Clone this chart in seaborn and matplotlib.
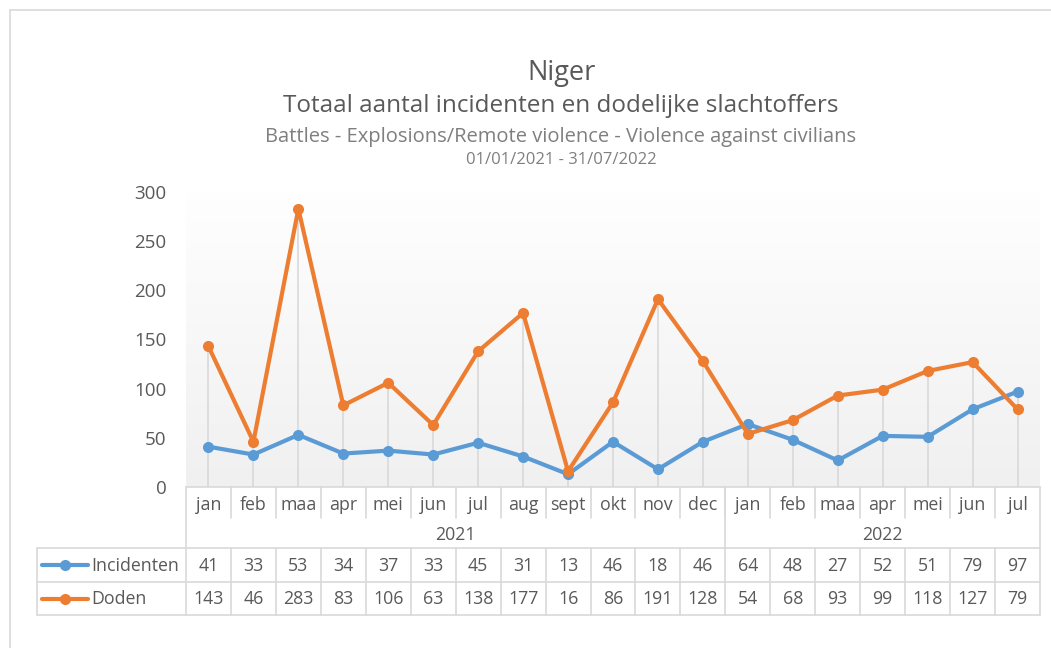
import numpy as np
import pandas as pd
import matplotlib
matplotlib.use("Agg")
import matplotlib.pyplot as plt
import seaborn as sns
from matplotlib.lines import Line2D

# ── data ──────────────────────────────────────────────────────────────────────
months = ["jan", "feb", "maa", "apr", "mei", "jun", "jul", "aug", "sept", "okt", "nov", "dec",
          "jan", "feb", "maa", "apr", "mei", "jun", "jul"]
years = ["2021", "2022"]
year_counts = [12, 7]
incidenten = [41, 33, 53, 34, 37, 33, 45, 31, 13, 46, 18, 46, 64, 48, 27, 52, 51, 79, 97]
doden = [143, 46, 283, 83, 106, 63, 138, 177, 16, 86, 191, 128, 54, 68, 93, 99, 118, 127, 79]

BLUE = "#5b9bd5"
ORANGE = "#ed7d31"
GRID = "#d9d9d9"
TXT = "#595959"

sns.set_theme(style="white")
plt.rcParams["font.family"] = ["Open Sans", "DejaVu Sans"]

W, H = 1051, 648
fig = plt.figure(figsize=(W / 100, H / 100), dpi=100)


def fx(px):
    return px / W


def fy(py):
    return 1 - py / H


# ── plot area (pixel layout) ──────────────────────────────────────────────────
L, R, TOP, BOT = 186, 1040, 192, 487
ax = fig.add_axes([fx(L), fy(BOT), fx(R - L), (BOT - TOP) / H])
n = len(months)
x = np.arange(n)

# gradient background
grad = np.linspace(0, 1, 256).reshape(-1, 1)
cmap = matplotlib.colors.LinearSegmentedColormap.from_list("g", ["#f0f0f0", "#ffffff"])
ax.imshow(grad, aspect="auto", cmap=cmap, origin="lower",
          extent=(-0.5, n - 0.5, 0, 312), zorder=0)

# drop lines
ax.vlines(x, 0, np.maximum(incidenten, doden), color=GRID, lw=1.2, zorder=1)

df = pd.DataFrame({"x": np.concatenate([x, x]),
                   "waarde": incidenten + doden,
                   "reeks": ["Incidenten"] * n + ["Doden"] * n})
sns.lineplot(data=df, x="x", y="waarde", hue="reeks",
             palette={"Incidenten": BLUE, "Doden": ORANGE},
             marker="o", markersize=8, markeredgewidth=0, lw=3,
             legend=False, ax=ax, zorder=3)

ax.set_xlim(-0.5, n - 0.5)
ax.set_ylim(0, 300)
ax.set_yticks(np.arange(0, 301, 50))
ax.tick_params(axis="y", labelsize=13.5, labelcolor=TXT, length=0, pad=14)
ax.set_xticks([])
ax.set_xlabel("")
ax.set_ylabel("")
for s in ax.spines.values():
    s.set_visible(False)

# ── titles ────────────────────────────────────────────────────────────────────
fig.text(fx(562), fy(73), "Niger", ha="center", va="center", fontsize=19.5, color=TXT)
fig.text(fx(561), fy(106), "Totaal aantal incidenten en dodelijke slachtoffers",
         ha="center", va="center", fontsize=17.5, color=TXT)
fig.text(fx(561), fy(137), "Battles - Explosions/Remote violence - Violence against civilians",
         ha="center", va="center", fontsize=14.5, color="#7f7f7f")
fig.text(fx(561), fy(160), "01/01/2021 - 31/07/2022",
         ha="center", va="center", fontsize=12, color="#7f7f7f")

# ── data table ────────────────────────────────────────────────────────────────
cw = (R - L) / n
LEG = 37
FS = 12.8
r_month, r_year, r_inc, r_dod, r_end = 487, 520, 548, 582, 615


def hline(y, x0, x1):
    fig.add_artist(Line2D([fx(x0), fx(x1)], [fy(y), fy(y)], color=GRID, lw=1.2))


def vline(xp, y0, y1):
    fig.add_artist(Line2D([fx(xp), fx(xp)], [fy(y0), fy(y1)], color=GRID, lw=1.2))


hline(r_month, L, R)
hline(r_inc, LEG, R)
hline(r_dod, LEG, R)
hline(r_end, LEG, R)
vline(L, r_month, r_end)
vline(R, r_month, r_end)
vline(LEG, r_inc, r_end)
for i in range(1, n):
    vline(L + i * cw, r_month, r_month + 31)
    vline(L + i * cw, r_inc, r_end)

start = 0
for yr, cnt in zip(years, year_counts):
    xb = L + (start + cnt) * cw
    if start + cnt < n:
        vline(xb, r_month, r_inc)
    fig.text(fx(L + (start + cnt / 2) * cw), fy((r_year + r_inc) / 2 + 1), yr,
             ha="center", va="center", fontsize=FS, color=TXT)
    start += cnt

for i, m in enumerate(months):
    cx = fx(L + (i + 0.5) * cw)
    fig.text(cx, fy((r_month + r_year) / 2 + 1), m, ha="center", va="center", fontsize=FS, color=TXT)
    fig.text(cx, fy((r_inc + r_dod) / 2 + 1), str(incidenten[i]),
             ha="center", va="center", fontsize=FS, color=TXT)
    fig.text(cx, fy((r_dod + r_end) / 2 + 1), str(doden[i]),
             ha="center", va="center", fontsize=FS, color=TXT)

for (name, col, r0, r1) in [("Incidenten", BLUE, r_inc, r_dod), ("Doden", ORANGE, r_dod, r_end)]:
    yc = fy((r0 + r1) / 2)
    fig.add_artist(Line2D([fx(42), fx(88)], [yc, yc], color=col, lw=3))
    fig.add_artist(Line2D([fx(65)], [yc], color=col, marker="o", markersize=8, markeredgewidth=0))
    fig.text(fx(91), fy((r0 + r1) / 2 + 1), name, ha="left", va="center", fontsize=FS, color=TXT)

# outer frame
fig.add_artist(Line2D([fx(10), fx(10)], [fy(10), fy(H)], color=GRID, lw=1.2))
fig.add_artist(Line2D([fx(10), fx(W)], [fy(10), fy(10)], color=GRID, lw=1.2))

fig.savefig("out.png", dpi=100, facecolor="white")
